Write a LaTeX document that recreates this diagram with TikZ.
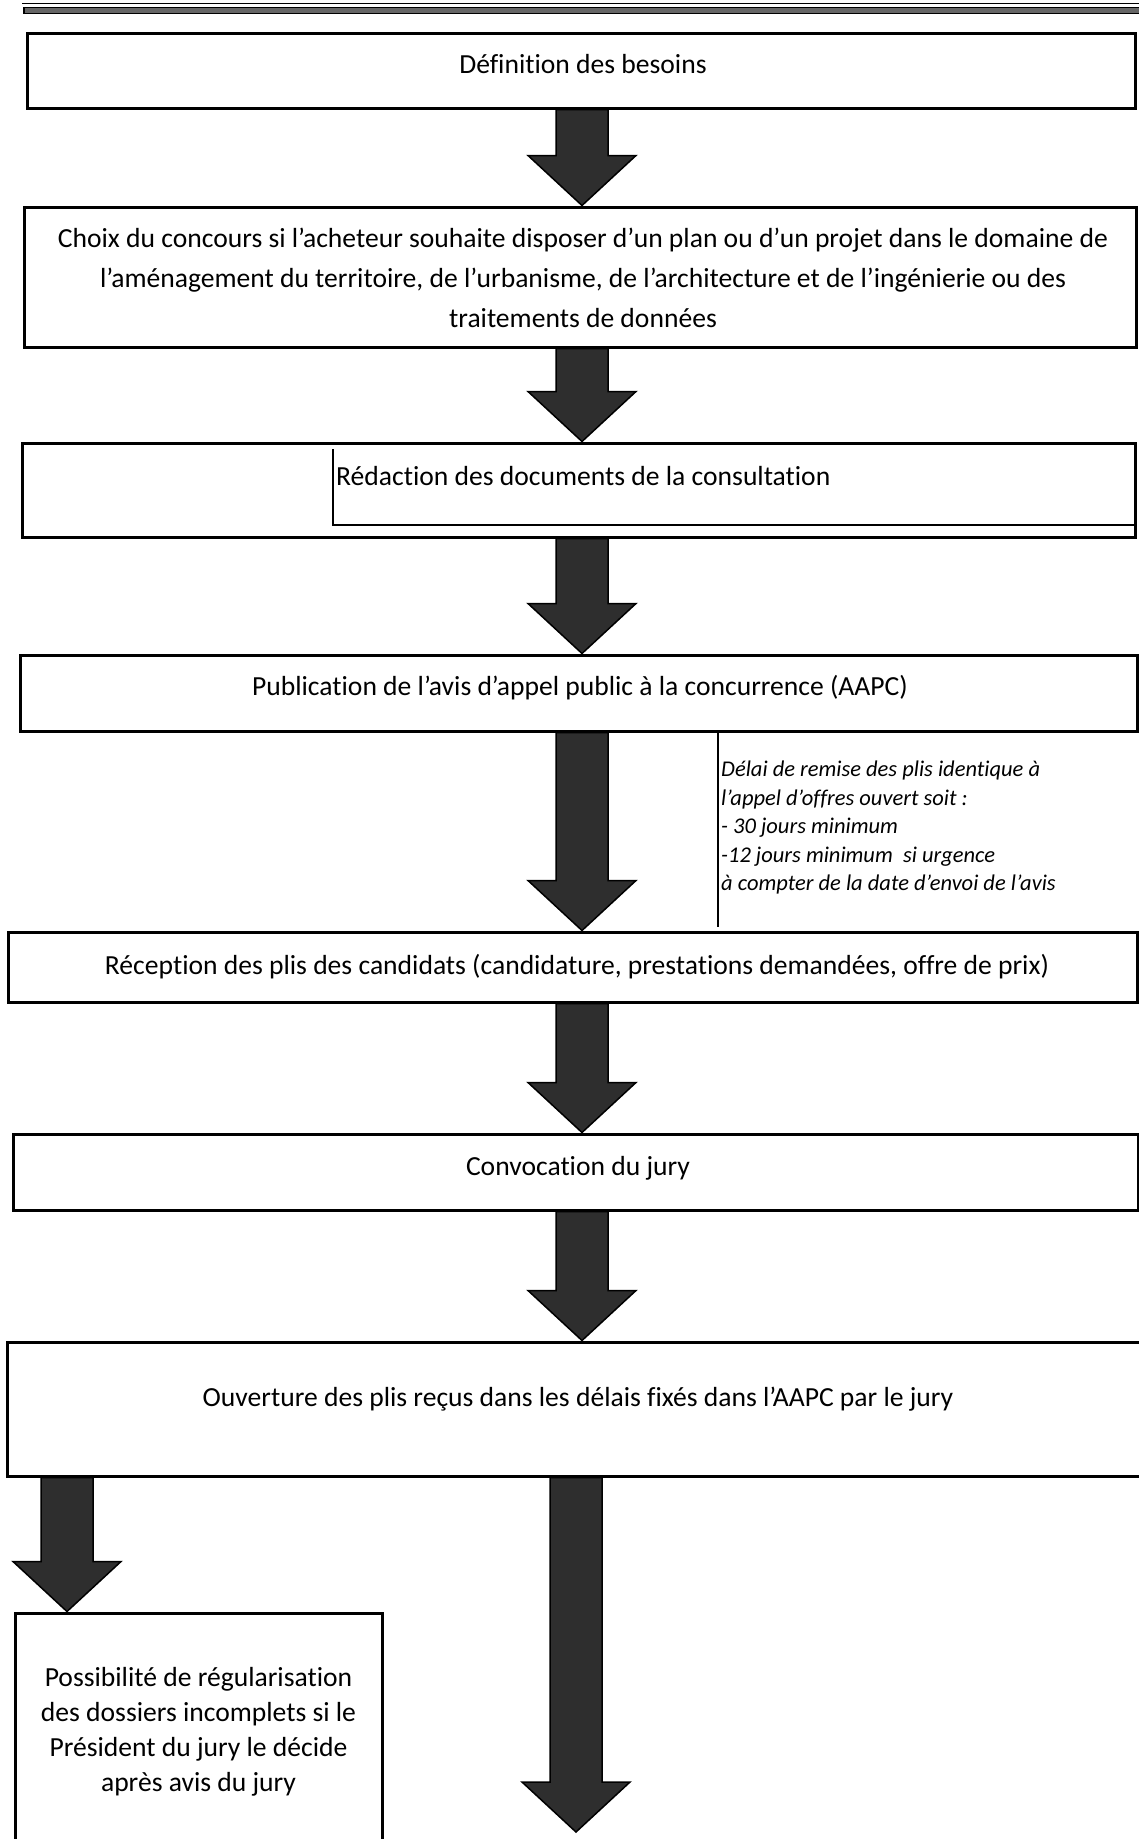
\documentclass[tikz,border=0pt]{standalone}
\usepackage{fontspec}
\setmainfont[Ligatures=NoCommon]{Carlito}
\usetikzlibrary{calc}
\newcommand\blockarrow[3][blk]{%
  \draw[#1] let \p1=(#2), \p2=(#3) in
    (\x1-26pt,\y1) -- (\x1+26pt,\y1) -- (\x1+26pt,\y2+50pt) -- (\x1+54pt,\y2+50pt)
    -- (\x1,\y2) -- (\x1-54pt,\y2+50pt) -- (\x1-26pt,\y2+50pt) -- cycle;}
\begin{document}
\begin{tikzpicture}[x=1pt,y=-1pt,
  box/.style={draw=black, line width=3pt, inner sep=0pt, rectangle},
  txt/.style={font=\fontsize{27.6}{40}\selectfont, inner sep=0pt, anchor=base},
  mtxt/.style={font=\fontsize{27.6}{40}\selectfont, inner sep=0pt, anchor=north, align=center},
  blk/.style={fill=black!82, draw=black, line width=1.5pt},
  notetxt/.style={font=\fontsize{22.5}{28.5}\selectfont\itshape, inner sep=0pt, anchor=north west, align=left}]
\useasboundingbox (0,0) rectangle (1139,1839);
\fill[white] (0,0) rectangle (1139,1839);
% top band
\draw[line width=1pt] (22,3) -- (1139,3);
\draw[fill=black!60, line width=1.2pt] (24,7.5) rectangle (1142,13.5);
% axes
\coordinate (ax) at (582,0);
\coordinate (axL) at (67,0);
\coordinate (axR) at (576,0);
% boxes
\node[box, minimum width=1108pt, minimum height=75pt] (b1) at (581,70.5) {};
\node[box, minimum width=1112pt, minimum height=140pt] (b2) at (580,277) {};
\node[box, minimum width=1113pt, minimum height=94pt] (b3) at (578.5,490) {};
\node[box, minimum width=1117pt, minimum height=76pt] (b4) at (578.5,693) {};
\node[box, minimum width=1129pt, minimum height=70pt] (b5) at (572.5,967) {};
\node[box, minimum width=1125pt, minimum height=76pt] (b6) at (575.5,1172) {};
\node[box, minimum width=1135pt, minimum height=134pt] (b7) at (574.5,1409) {};
\node[box, minimum width=367pt, minimum height=257pt] (b8) at (198.5,1741.5) {};
% texts
\node[txt] (t1) at (583,73) {Définition des besoins};
\node[mtxt] (t2) at (583,228) {Choix du concours si l’acheteur souhaite disposer d’un plan ou d’un projet dans le domaine de\\
l’aménagement du territoire, de l’urbanisme, de l’architecture et de l’ingénierie ou des\\
traitements de données};
\coordinate (i1) at (333,449);
\coordinate (i2) at (333,525);
\coordinate (i3) at (1135,525);
\draw[line width=1.6pt] (i1) -- (i2) -- (i3);
\node[txt, anchor=base west] (t3) at (336,485) {Rédaction des documents de la consultation};
\node[txt] (t4) at (580,695) {Publication de l’avis d’appel public à la concurrence (AAPC)};
\node[txt] (t5) at (577,974) {Réception des plis des candidats (candidature, prestations demandées, offre de prix)};
\node[txt] (t6) at (578,1175) {Convocation du jury};
\node[txt] (t7) at (578,1406) {Ouverture des plis reçus dans les délais fixés dans l’AAPC par le jury};
\node[mtxt, font=\fontsize{27.6}{35}\selectfont] (t8) at (198.5,1667.5) {Possibilité de régularisation\\
des dossiers incomplets si le\\
Président du jury le décide\\
après avis du jury};
% note
\coordinate (n1) at (718,733);
\coordinate (n2) at (718,927);
\draw[line width=1.5pt] (n1) -- (n2);
\node[notetxt] (note) at (721,761) {Délai de remise des plis identique à\\
l’appel d’offres ouvert soit :\\
- 30 jours minimum\\
-12 jours minimum\ \ si urgence\\
à compter de la date d’envoi de l’avis};
% arrows
\blockarrow{b1.south -| ax}{b2.north -| ax}
\blockarrow{b2.south -| ax}{b3.north -| ax}
\blockarrow{b3.south -| ax}{b4.north -| ax}
\blockarrow{b4.south -| ax}{b5.north -| ax}
\blockarrow{b5.south -| ax}{b6.north -| ax}
\blockarrow{b6.south -| ax}{b7.north -| ax}
\blockarrow{b7.south -| axL}{b8.north -| axL}
\coordinate (endR) at (576,1832);
\blockarrow{b7.south -| axR}{endR}
\end{tikzpicture}
\end{document}
